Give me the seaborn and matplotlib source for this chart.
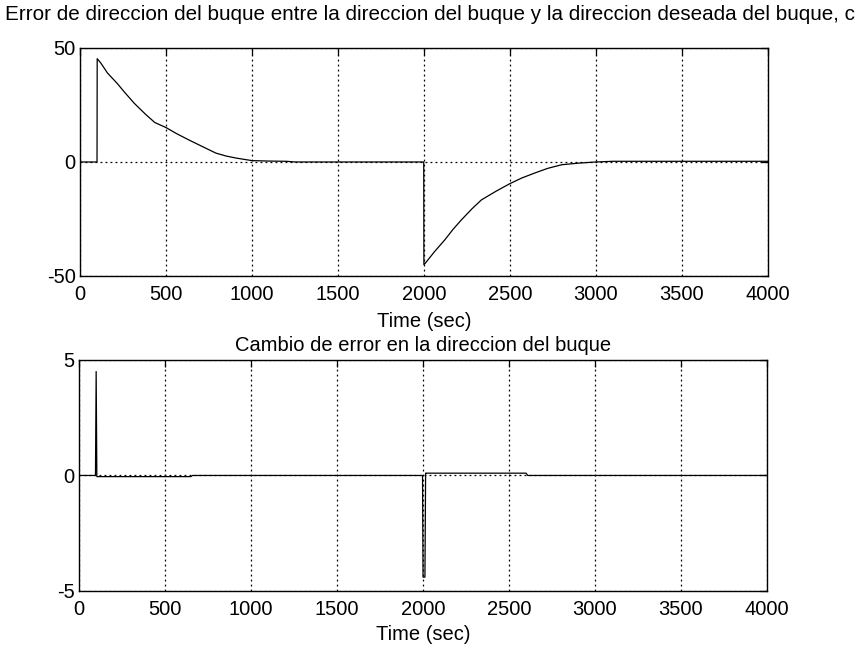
import matplotlib
matplotlib.use("Agg")
import matplotlib.pyplot as plt
import seaborn as sns
import pandas as pd

# Heading error (deg) vs time (s)
err_t = [0, 99, 100, 120, 160, 217, 260, 316, 380, 435, 500, 560, 632, 700,
         790, 850, 909, 1000, 1100, 1200, 1250, 1999, 2000, 2008, 2062, 2121,
         2170, 2218, 2280, 2335, 2420, 2500, 2570, 2646, 2720, 2802, 2900,
         3000, 3100, 4000]
err_v = [0, 0, 45.3, 43.5, 39.0, 34.4, 30.5, 25.7, 21.0, 17.3, 15.1, 12.5,
         9.7, 7.2, 3.9, 2.6, 1.7, 0.6, 0.4, 0.3, 0, 0, -45.0, -44.4, -39.3,
         -34.2, -29.5, -25.4, -20.5, -16.6, -12.8, -9.5, -7.0, -4.8, -2.8,
         -1.2, -0.5, 0, 0.3, 0.3]

# Change of heading error vs time (s)
derr_t = [0, 96, 100, 104, 115, 650, 660, 1998, 2001, 2012, 2016, 2020, 2600,
          2610, 4000]
derr_v = [0, 0, 4.5, -0.05, -0.05, -0.05, 0, 0, -4.4, -4.4, 0.1, 0.1, 0.1,
          0, 0]

x_ticks = [0, 500, 1000, 1500, 2000, 2500, 3000, 3500, 4000]
top_yticks = [-50, 0, 50]
bot_yticks = [-5, 0, 5]

title_top = ("Error de direccion del buque entre la direccion del buque y la "
             "direccion deseada del buque, c")
title_bot = "Cambio de error en la direccion del buque"
xlabel = "Time (sec)"

sns.set_style("white")
plt.rcParams["font.family"] = ["Liberation Sans", "DejaVu Sans"]
plt.rcParams["axes.unicode_minus"] = False
plt.rcParams["text.color"] = "black"
plt.rcParams["axes.labelcolor"] = "black"

fig = plt.figure(figsize=(8.63, 6.5), dpi=100)
ax1 = fig.add_axes([0.0927, 0.5754, 0.797, 0.3508])
ax2 = fig.add_axes([0.0915, 0.0908, 0.797, 0.3554])

df1 = pd.DataFrame({"t": err_t, "v": err_v})
df2 = pd.DataFrame({"t": derr_t, "v": derr_v})

sns.lineplot(data=df1, x="t", y="v", ax=ax1, color="black", linewidth=0.9,
             estimator=None, sort=False)
sns.lineplot(data=df2, x="t", y="v", ax=ax2, color="black", linewidth=0.9,
             estimator=None, sort=False)

for ax, yt in ((ax1, top_yticks), (ax2, bot_yticks)):
    ax.set_xlim(0, 4000)
    ax.set_ylim(yt[0], yt[-1])
    ax.set_xticks(x_ticks)
    ax.set_yticks(yt)
    ax.grid(True, linestyle=(0, (1.5, 2.5)), color="black", linewidth=0.9)
    ax.tick_params(direction="in", length=5, top=True, right=True,
                   labelsize=14.5, colors="black", width=0.9)
    ax.tick_params(axis="x", pad=6.5)
    ax.tick_params(axis="y", pad=3)
    for s in ax.spines.values():
        s.set_color("black")
        s.set_linewidth(1.0)
    ax.set_ylabel("")

ax1.set_xlabel(xlabel, fontsize=14.5, labelpad=5.5, color="black")
ax2.set_xlabel(xlabel, fontsize=14.5, labelpad=4.5, color="black")
ax2.set_title(title_bot, fontsize=14.5, pad=6.5, color="black")
fig.text(5 / 863, 1 - 14 / 650, title_top, fontsize=14.9, ha="left",
         va="center", color="black")

fig.savefig("out.png", dpi=100, facecolor="white")
